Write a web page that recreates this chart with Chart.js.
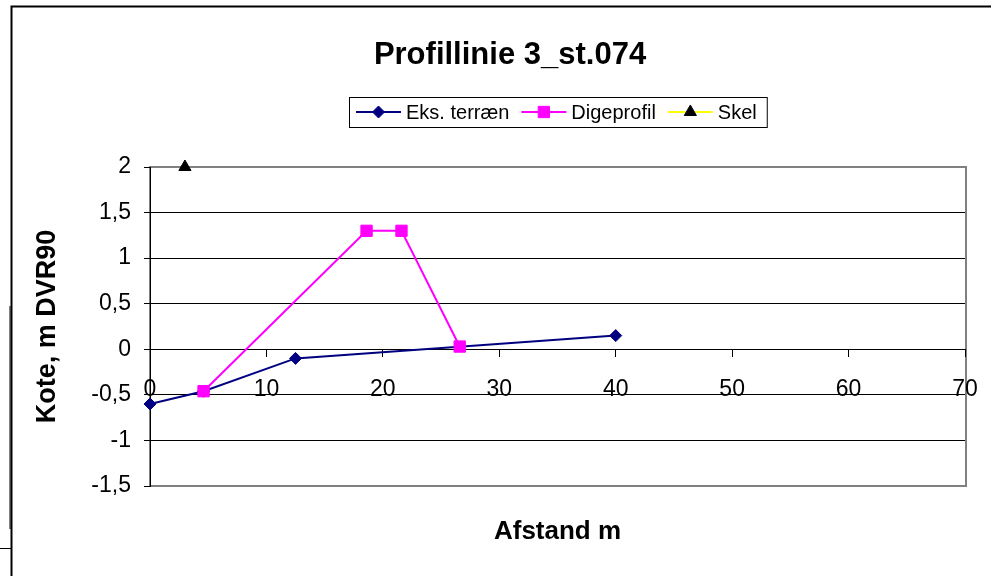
<!DOCTYPE html>
<html>
<head>
<meta charset="utf-8">
<title>Profillinie 3_st.074</title>
<script src="https://cdn.jsdelivr.net/npm/chart.js@4.4.0/dist/chart.umd.min.js"></script>
<style>
  html, body { margin: 0; padding: 0; background: #fff; overflow: hidden; }
  canvas { display: block; }
</style>
</head>
<body>
<canvas id="myChart" width="991" height="576"></canvas>
<script>
// textos
const chartTitle = 'Profillinie 3_st.074';
const xAxisTitle = 'Afstand m';
const yAxisTitle = 'Kote, m DVR90';
const seriesNames = ['Eks. terræn', 'Digeprofil', 'Skel'];

// datos (afstand, kote)
const terraenX = [0, 4.6, 12.5, 40];
const terraenY = [-0.6, -0.46, -0.1, 0.15];
const digeX = [4.6, 18.6, 21.6, 26.6];
const digeY = [-0.46, 1.3, 1.3, 0.03];
const skelX = [3];
const skelY = [2];

// ticks
const xTicks = [0, 10, 20, 30, 40, 50, 60, 70];
const yTicks = [-1.5, -1, -0.5, 0, 0.5, 1, 1.5, 2];

const fontFamily = "'Liberation Sans', Arial, sans-serif";
const toPoints = (xs, ys) => xs.map((x, i) => ({ x: x, y: ys[i] }));
const comma = v => String(v).replace('.', ',');

// titulo, leyenda y marcos al estilo Excel
const decorPlugin = {
    id: 'decor',
    beforeDraw(chart) {
        const ctx = chart.ctx, a = chart.chartArea;
        ctx.save();
        ctx.fillStyle = '#fff';
        ctx.fillRect(0, 0, chart.width, chart.height);
        ctx.strokeStyle = '#808080';
        ctx.lineWidth = 2;
        ctx.strokeRect(a.left, a.top, a.right - a.left + 1, a.bottom - a.top);
        ctx.restore();
    },
    afterDraw(chart) {
        const ctx = chart.ctx, a = chart.chartArea;
        ctx.save();

        // marco exterior
        ctx.strokeStyle = '#000';
        ctx.lineWidth = 2;
        ctx.beginPath();
        ctx.moveTo(11.5, chart.height);
        ctx.lineTo(11.5, 6.5);
        ctx.lineTo(chart.width, 6.5);
        ctx.stroke();
        ctx.lineWidth = 1;
        ctx.beginPath();
        ctx.moveTo(10, 306); ctx.lineTo(10, 529);
        ctx.moveTo(0, 548.5); ctx.lineTo(11, 548.5);
        ctx.stroke();

        // titulo
        ctx.fillStyle = '#000';
        ctx.font = 'bold 31px ' + fontFamily;
        ctx.textAlign = 'center';
        ctx.textBaseline = 'middle';
        ctx.fillText(chartTitle, 510, 55);

        // leyenda
        ctx.font = '20px ' + fontFamily;
        const items = chart.data.datasets.map(ds => ({
            label: ds.label,
            color: ds.borderColor,
            fill: ds.pointBackgroundColor,
            style: ds.pointStyle,
            radius: ds.pointRadius,
            w: ctx.measureText(ds.label).width
        }));
        let w = 7;
        items.forEach((it, i) => { w += 50 + it.w + (i < items.length - 1 ? 12 : 10); });
        const left = Math.round((a.left + a.right) / 2 - w / 2);
        const top = 97, h = 30, mid = top + h / 2;
        ctx.fillStyle = '#fff';
        ctx.fillRect(left, top, w, h);
        ctx.strokeStyle = '#000';
        ctx.lineWidth = 1;
        ctx.strokeRect(left + 0.5, top + 0.5, w, h);

        let x = left + 7;
        items.forEach(it => {
            ctx.strokeStyle = it.color;
            ctx.lineWidth = 2;
            ctx.beginPath();
            ctx.moveTo(x, mid); ctx.lineTo(x + 45, mid);
            ctx.stroke();
            ctx.fillStyle = it.fill;
            ctx.strokeStyle = it.fill;
            ctx.lineWidth = 1;
            if (Chart.helpers && Chart.helpers.drawPoint) {
                Chart.helpers.drawPoint(ctx, { pointStyle: it.style, radius: it.radius, rotation: 0, borderWidth: 1 }, x + 22.5, mid);
            } else {
                ctx.fillRect(x + 17, mid - 5, 11, 11);
            }
            ctx.fillStyle = '#000';
            ctx.textAlign = 'left';
            ctx.textBaseline = 'middle';
            ctx.fillText(it.label, x + 50, mid + 1);
            x += 50 + it.w + 12;
        });
        ctx.restore();
    }
};

const ctx = document.getElementById('myChart').getContext('2d');

const myChart = new Chart(ctx, {
    type: 'scatter',
    data: {
        datasets: [{
            label: seriesNames[0],
            data: toPoints(terraenX, terraenY),
            showLine: true,
            borderColor: '#000080',
            borderWidth: 2,
            pointStyle: 'rectRot',
            pointRadius: 6,
            pointBackgroundColor: '#000080',
            pointBorderColor: '#000080',
            pointBorderWidth: 1,
            tension: 0,
            clip: false,
            order: 1
        }, {
            label: seriesNames[1],
            data: toPoints(digeX, digeY),
            showLine: true,
            borderColor: '#FF00FF',
            borderWidth: 2,
            pointStyle: 'rect',
            pointRadius: 8,
            pointBackgroundColor: '#FF00FF',
            pointBorderColor: '#FF00FF',
            pointBorderWidth: 1,
            tension: 0,
            clip: false,
            order: 0
        }, {
            label: seriesNames[2],
            data: toPoints(skelX, skelY),
            showLine: true,
            borderColor: '#FFFF00',
            borderWidth: 2,
            pointStyle: 'triangle',
            pointRadius: 7,
            pointBackgroundColor: '#000',
            pointBorderColor: '#000',
            pointBorderWidth: 1,
            tension: 0,
            clip: false,
            order: 2
        }]
    },
    options: {
        responsive: false,
        devicePixelRatio: 1,
        animation: false,
        layout: {
            padding: { left: 12, right: 26, top: 167, bottom: 25 }
        },
        plugins: {
            legend: { display: false },
            title: { display: false },
            tooltip: { enabled: false }
        },
        scales: {
            x: {
                type: 'linear',
                position: { y: 0 },
                min: xTicks[0],
                max: xTicks[xTicks.length - 1],
                afterBuildTicks: scale => { scale.ticks = xTicks.map(v => ({ value: v })); },
                // el margen derecho lo marca layout.padding
                afterFit: scale => { scale.paddingLeft = 0; scale.paddingRight = 0; },
                ticks: {
                    color: '#000',
                    padding: 20,
                    maxRotation: 0,
                    font: { family: fontFamily, size: 23 },
                    callback: v => comma(v)
                },
                grid: {
                    drawOnChartArea: false,
                    drawTicks: true,
                    tickLength: 7,
                    color: '#000'
                },
                border: { display: true, color: '#000', width: 1 }
            },
            xTitle: {
                type: 'linear',
                axis: 'x',
                position: 'bottom',
                min: xTicks[0],
                max: xTicks[xTicks.length - 1],
                ticks: { display: false },
                grid: { display: false, drawTicks: false },
                border: { display: false },
                afterFit: scale => { scale.height = 65; },
                title: {
                    display: true,
                    text: xAxisTitle,
                    color: '#000',
                    padding: { top: 4, bottom: 4 },
                    font: { family: fontFamily, size: 26, weight: 'bold' }
                }
            },
            y: {
                type: 'linear',
                position: 'left',
                min: yTicks[0],
                max: yTicks[yTicks.length - 1],
                afterBuildTicks: scale => { scale.ticks = yTicks.map(v => ({ value: v })); },
                afterFit: scale => { scale.width = 138; },
                ticks: {
                    color: '#000',
                    padding: 13,
                    font: { family: fontFamily, size: 23 },
                    callback: v => comma(v)
                },
                grid: {
                    color: c => (c.index === 0 || c.index === yTicks.length - 1) ? '#808080' : '#000',
                    tickColor: '#000',
                    tickLength: 6,
                    lineWidth: 1
                },
                border: { display: true, color: '#000', width: 1 },
                title: {
                    display: true,
                    text: yAxisTitle,
                    color: '#000',
                    padding: { top: 19, bottom: 4 },
                    font: { family: fontFamily, size: 27, weight: 'bold' }
                }
            }
        }
    },
    plugins: [decorPlugin]
});
</script>
</body>
</html>
